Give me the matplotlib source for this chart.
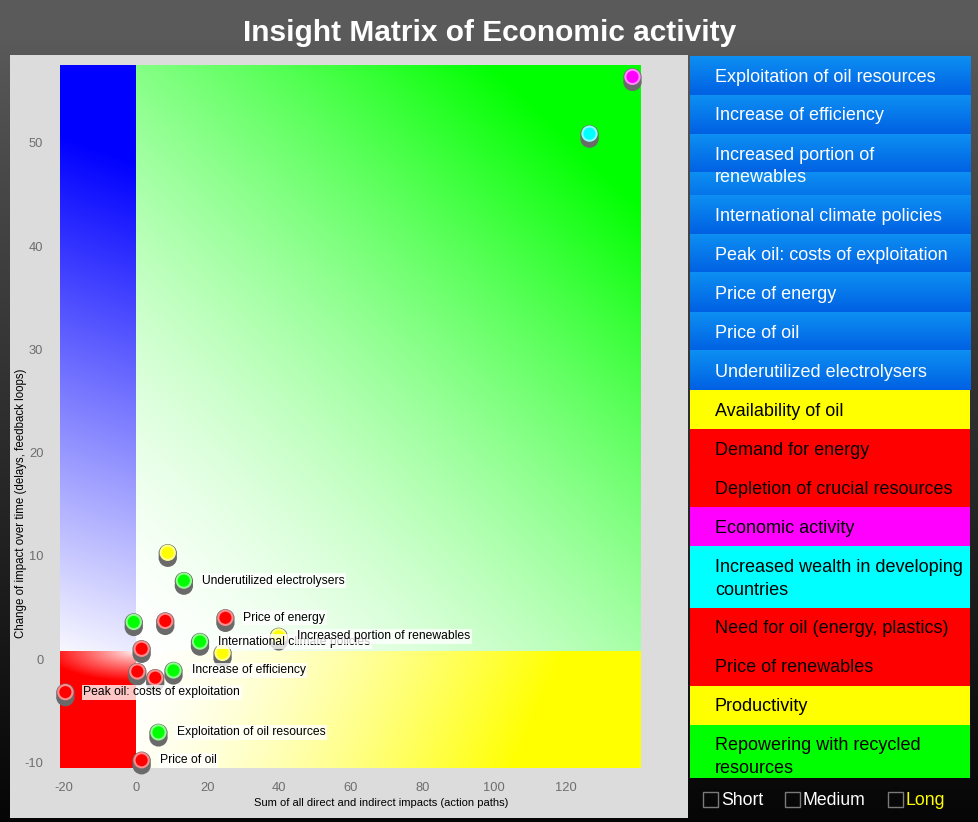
import numpy as np
import matplotlib
matplotlib.use('Agg')
import matplotlib.pyplot as plt
from matplotlib.patches import Rectangle
from matplotlib import transforms

plt.rcParams['font.family'] = ['Liberation Sans', 'DejaVu Sans']
plt.rcParams['axes.unicode_minus'] = False

# ---------------- data ----------------
title = "Insight Matrix of Economic activity"
x_label = "Sum of all direct and indirect impacts (action paths)"
y_label = "Change of impact over time (delays, feedback loops)"

point_x = [138.7, 126.7, 8.9, 13.4, -0.6, 8.2, 25.0, 17.9, 39.9, 24.2, 1.6, 0.4, 5.4, 10.5, -19.7, 6.3, 1.6]
point_y = [56.4, 50.9, 10.3, 7.6, 3.6, 3.7, 4.0, 1.7, 2.2, 0.6, 1.0, -1.2, -1.8, -1.1, -3.2, -7.1, -9.8]
point_colors = ['#ff00ff', '#00ffff', '#ffff00', '#00ff00', '#00ff00', '#ff0000', '#ff0000',
                '#00ff00', '#ffff00', '#ffff00', '#ff0000', '#ff0000', '#ff0000', '#00ff00',
                '#ff0000', '#00ff00', '#ff0000']
point_labels = ['', '', '', 'Underutilized electrolysers', '', '', 'Price of energy',
                'International climate policies', 'Increased portion of renewables', '', '', '',
                '', 'Increase of efficiency', 'Peak oil: costs of exploitation',
                'Exploitation of oil resources', 'Price of oil']

x_ticks = [-20, 0, 20, 40, 60, 80, 100, 120]
y_ticks = [-10, 0, 10, 20, 30, 40, 50]
x_limits = (-21.2, 140.8)
y_limits = (-10.55, 57.55)
x_split = 0.0
y_split = 0.7

legend_labels = ['Exploitation of oil resources', 'Increase of efficiency',
                 'Increased portion of\nrenewables', 'International climate policies',
                 'Peak oil: costs of exploitation', 'Price of energy', 'Price of oil',
                 'Underutilized electrolysers', 'Availability of oil', 'Demand for energy',
                 'Depletion of crucial resources', 'Economic activity',
                 'Increased wealth in developing\ncountries', 'Need for oil (energy, plastics)',
                 'Price of renewables', 'Productivity', 'Repowering with recycled\nresources']
legend_colors = ['blue'] * 8 + ['#ffff00', '#ff0000', '#ff0000', '#ff00ff', '#00ffff',
                                '#ff0000', '#ff0000', '#ffff00', '#00ff00']

check_labels = ['Short', 'Medium', 'Long']
check_colors = ['white', 'white', '#ffff00']

# ---------------- figure ----------------
W, H = 979, 822
fig = plt.figure(figsize=(W / 100, H / 100), dpi=100)

bg = fig.add_axes([0, 0, 1, 1], zorder=0)
bg.set_xlim(0, W)
bg.set_ylim(H, 0)
bg.axis('off')

# background vertical gradient
yy = np.linspace(0, H, 300)
g = np.clip(0.353 - 0.33 * np.clip((yy - 40) / (H - 40), 0, 1) ** 0.9, 0, 1)
bgimg = np.repeat(g[:, None], 2, axis=1)
bg.imshow(np.dstack([bgimg, bgimg, bgimg]), extent=[0, W, H, 0], aspect='auto',
          interpolation='bilinear', zorder=0)

# light gray chart panel
bg.add_patch(Rectangle((10, 55.5), 678.5, 762.5, facecolor='#dcdcdc', edgecolor='none', zorder=1))

# title
bg.text(490, 33, title, ha='center', va='center', fontsize=21.5, fontweight='bold',
        color='white', zorder=3)

# legend panel
lx0, lx1 = 690, 970.5
ytop = 56.0
ybottom_clip = 778
blue_top = np.array([0.05, 0.56, 0.95])
blue_bot = np.array([0.0, 0.38, 0.89])
for lab, col in zip(legend_labels, legend_colors):
    lines = lab.split('\n')
    h = 39 + 22.4 * (len(lines) - 1)
    y0 = ytop
    y1 = min(ytop + h, ybottom_clip)
    if col == 'blue':
        t0 = y0
        while t0 < y1 - 0.01:
            t1 = min(t0 + 39, y1)
            frac = np.linspace(0, (t1 - t0) / 39, 40)
            cols = blue_top[None, :] * (1 - frac[:, None]) + blue_bot[None, :] * frac[:, None]
            img = np.repeat(cols[:, None, :], 2, axis=1)
            bg.imshow(img, extent=[lx0, lx1, t1, t0], aspect='auto',
                      interpolation='bilinear', zorder=2)
            t0 = t1
        tcol = 'white'
    else:
        bg.add_patch(Rectangle((lx0, y0), lx1 - lx0, y1 - y0, facecolor=col,
                               edgecolor='none', zorder=2))
        tcol = 'black'
    for i, line in enumerate(lines):
        ty = y0 + 21 + 23 * i
        if ty < ybottom_clip:
            bg.text(715, ty, line, ha='left', va='center', fontsize=13, color=tcol, zorder=3,
                    clip_on=False)
    ytop += h
bg.set_xlim(0, W)
bg.set_ylim(H, 0)

# checkboxes
check_x = [703.5, 785.5, 888.5]
for cx, lab, col in zip(check_x, check_labels, check_colors):
    bg.add_patch(Rectangle((cx, 791.5), 15, 15, facecolor='none', edgecolor='#7a7a7a',
                           lw=1.0, zorder=3))
    bg.text(cx + 17.5, 800, lab, ha='left', va='center', fontsize=12.7, color=col, zorder=3)

# axis labels (pixel placement)
bg.text(381, 803, x_label, ha='center', va='center', fontsize=8, color='black', zorder=3)
bg.text(21, 503, y_label, ha='center', va='center', fontsize=8.3, color='black',
        rotation=90, zorder=3)

# ---------------- main plot ----------------
ax = fig.add_axes([60 / W, (H - 768) / H, 580 / W, 703 / H], zorder=1)
ax.set_facecolor('none')
ax.set_xlim(*x_limits)
ax.set_ylim(*y_limits)
for s in ax.spines.values():
    s.set_visible(False)

n = 200
u = np.linspace(0, 1, n)[None, :]
v = np.linspace(0, 1, n)[:, None]
ones = np.ones((n, n))

# green quadrant (top right)
t = 0.45 * u + 0.55 * v
sg = np.clip(t / 0.87, 0, 1) ** 1.6
green = np.dstack([1 - sg, ones, 1 - sg])
ax.imshow(green, extent=[x_split, x_limits[1], y_split, y_limits[1]], origin='lower',
          aspect='auto', interpolation='bilinear', zorder=0)

# blue quadrant (top left)
sb = np.clip(0.05 + 1.1 * v + 0.05 * u - 0.02, 0, 1) * ones
blue = np.dstack([1 - sb, 1 - sb, ones])
ax.imshow(blue, extent=[x_limits[0], x_split, y_split, y_limits[1]], origin='lower',
          aspect='auto', interpolation='bilinear', zorder=0)

# yellow quadrant (bottom right)
sy = np.clip((u + 0.1 * (1 - v)) / 0.85, 0, 1) ** 1.5
yellow = np.dstack([ones, ones, 1 - sy])
ax.imshow(yellow, extent=[x_split, x_limits[1], y_limits[0], y_split], origin='lower',
          aspect='auto', interpolation='bilinear', zorder=0)

# red quadrant (bottom left) with white glow at inner corner
dx = (1 - u) * 76
dy = (1 - v) * 117
r = np.sqrt((dx / 90) ** 2 + (dy / 30) ** 2)
sr = np.clip(r, 0, 1) ** 0.8
red = np.dstack([ones, 1 - sr, 1 - sr])
ax.imshow(red, extent=[x_limits[0], x_split, y_limits[0], y_split], origin='lower',
          aspect='auto', interpolation='bilinear', zorder=0)

ax.set_xlim(*x_limits)
ax.set_ylim(*y_limits)

ax.set_xticks(x_ticks)
ax.set_yticks(y_ticks)
ax.tick_params(axis='both', length=0, labelsize=9.3, labelcolor='#6e6e6e')
ax.tick_params(axis='x', pad=10)
ax.tick_params(axis='y', pad=12)

# markers: shadow (two grey discs), then coloured disc
sh1 = transforms.offset_copy(ax.transData, fig=fig, x=0, y=-0.5, units='dots')
sh2 = transforms.offset_copy(ax.transData, fig=fig, x=0, y=-5, units='dots')
ax.scatter(point_x, point_y, s=175, color='#6a6a6a', edgecolors='none', transform=sh2,
           zorder=2, clip_on=False)
ax.scatter(point_x, point_y, s=175, color='#6a6a6a', edgecolors='none', transform=sh1,
           zorder=2, clip_on=False)


def lighten(c, f=0.55):
    rgb = np.array(matplotlib.colors.to_rgb(c))
    return tuple(rgb + (1 - rgb) * f)


ax.scatter(point_x, point_y, s=105, c=point_colors,
           edgecolors=[lighten(c) for c in point_colors], linewidths=1.5, zorder=3,
           clip_on=False)

# labels
for i, (px, py, lab) in enumerate(zip(point_x, point_y, point_labels)):
    if lab:
        ax.annotate(lab, (px, py), xytext=(13, 0), textcoords='offset points',
                    ha='left', va='center', fontsize=8.7, color='black', zorder=4 + i * 0.01,
                    bbox=dict(boxstyle='square,pad=0.12', fc='white', ec='none', alpha=0.78))

fig.savefig('out.png', dpi=100)
